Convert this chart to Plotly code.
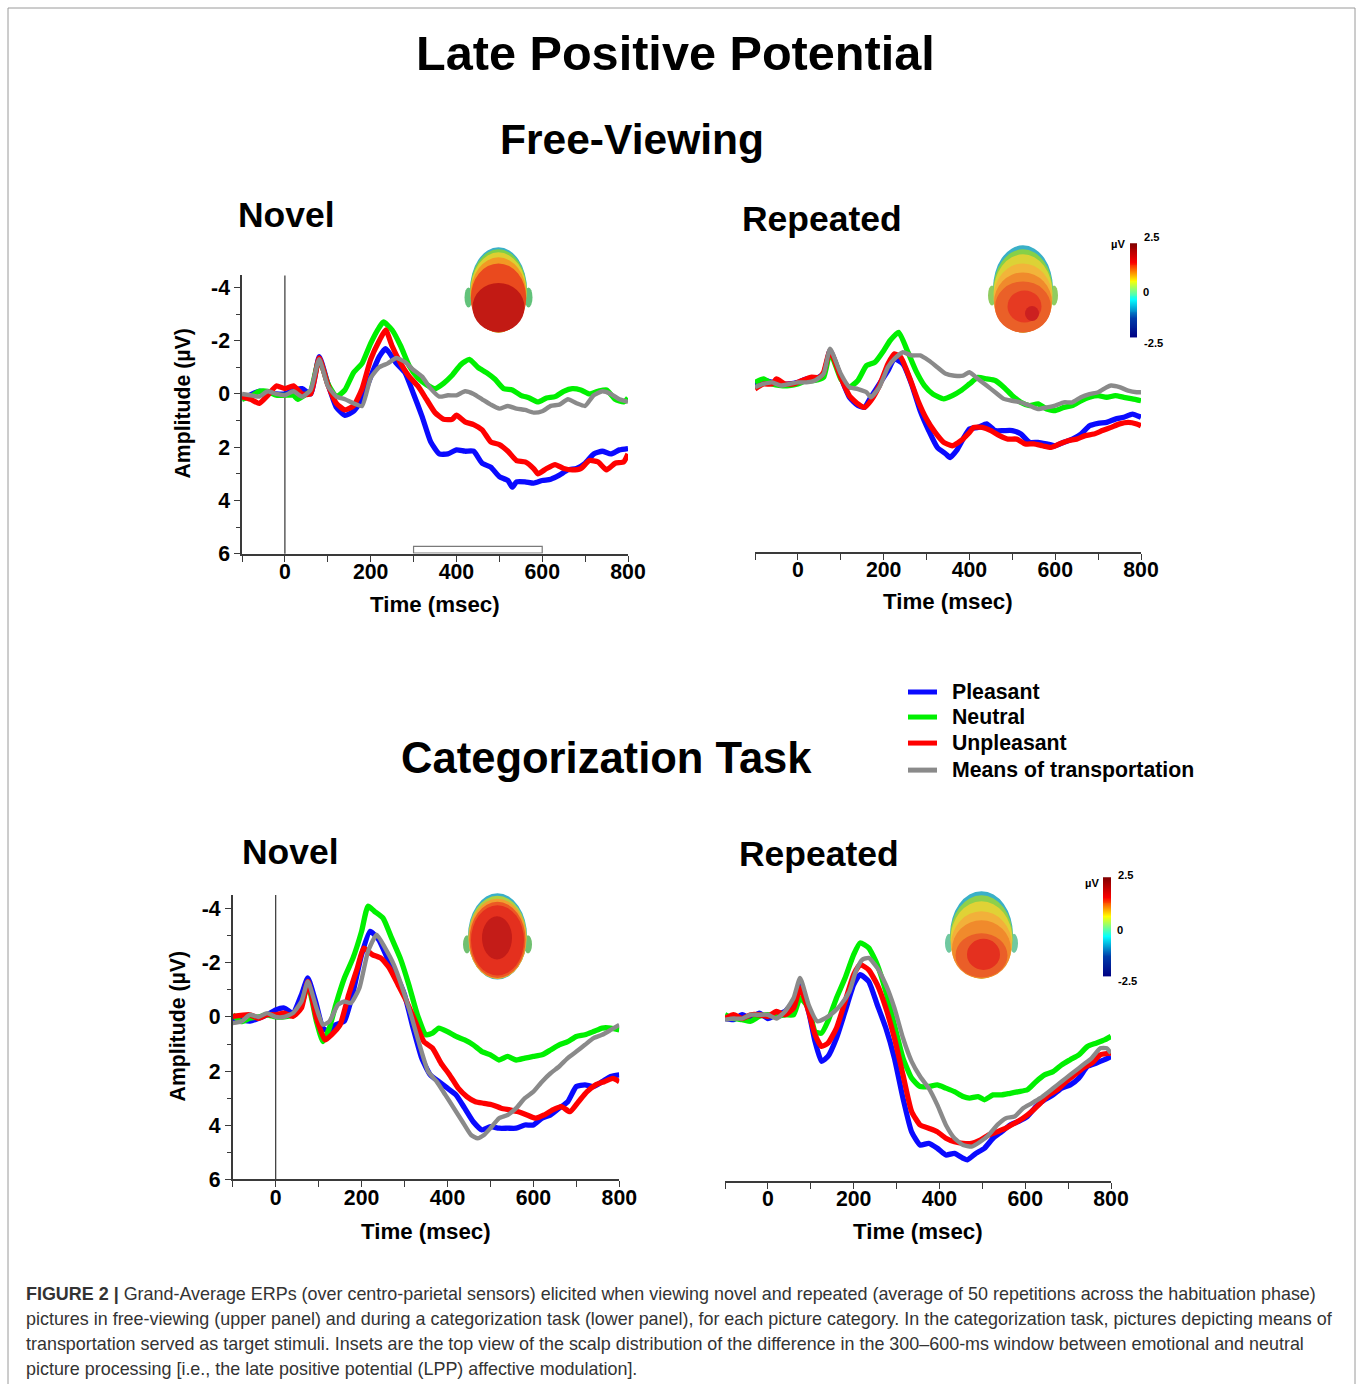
import plotly.graph_objects as go

# ---------------- DATA ----------------
series_names = ["Pleasant", "Neutral", "Unpleasant", "Means of transportation"]
series_colors = ["#0a0aff", "#00f000", "#ff0000", "#8a8a8a"]

# Free-viewing / Novel
fvn_pleasant_t = [-100,-60,-20,0,20,40,60,80,100,120,140,160,180,200,220,235,260,280,300,320,340,360,380,400,420,440,460,480,500,520,530,540,560,580,600,620,640,660,680,700,720,740,760,780,800]
fvn_pleasant_v = [0.2,-0.1,0,0,-0.15,-0.2,0,-1.4,-0.4,0.5,0.8,0.65,0.2,-0.65,-1.4,-1.7,-1.15,-0.8,0,0.85,1.8,2.25,2.25,2.1,2.15,2.15,2.6,2.75,3.1,3.25,3.5,3.3,3.3,3.35,3.25,3.2,3.05,2.85,2.8,2.6,2.25,2.15,2.25,2.1,2.05]
fvn_neutral_t = [-100,-80,-60,-40,-20,0,20,30,50,60,80,100,120,140,160,180,200,220,230,250,270,290,310,330,350,370,390,410,430,450,470,490,510,530,550,570,590,610,630,650,670,690,710,730,750,770,790,800]
fvn_neutral_v = [0.2,0.1,-0.1,-0.1,0.05,0.05,0.05,0.2,0,-0.1,-1.3,-0.4,0.1,-0.15,-0.8,-1.15,-1.9,-2.5,-2.7,-2.4,-1.8,-1.05,-0.6,-0.35,-0.2,-0.4,-0.7,-1.1,-1.3,-1.0,-0.8,-0.55,-0.2,-0.15,0.05,0.15,0.3,0.15,0.1,-0.1,-0.2,-0.15,0,-0.1,-0.15,0.2,0.3,0.15]
fvn_unpleasant_t = [-100,-80,-60,-40,-20,0,20,40,60,80,100,120,140,160,180,200,220,235,250,270,290,310,330,350,370,390,400,420,440,460,480,500,520,540,560,580,590,610,630,650,670,690,710,730,750,770,790,800]
fvn_unpleasant_v = [0.1,0.2,0.35,0.05,-0.3,-0.2,-0.3,0,0,-1.35,-0.35,0.35,0.6,0.45,-0.2,-1.3,-2.0,-2.4,-1.8,-1.15,-0.65,-0.3,0.2,0.7,0.95,0.95,0.8,1.05,1.15,1.35,1.8,1.9,2.15,2.5,2.55,2.8,3.0,2.8,2.65,2.8,2.85,2.8,2.5,2.55,2.85,2.6,2.55,2.25]
fvn_transport_t = [-100,-80,-60,-40,-20,0,20,40,60,80,100,120,140,160,180,200,220,240,260,280,300,320,340,360,380,400,420,440,460,480,500,520,540,560,580,600,620,640,660,680,700,720,740,760,780,800]
fvn_transport_v = [0,0.05,0.1,-0.1,0,0.05,-0.1,0.1,-0.15,-1.3,-0.3,0.1,0.2,0.35,0.45,-0.6,-1.0,-1.15,-1.35,-1.2,-0.9,-0.65,-0.2,0.1,0.05,0.05,-0.1,0,0.2,0.4,0.55,0.45,0.55,0.6,0.7,0.65,0.45,0.4,0.2,0.35,0.45,0.05,-0.1,0,0.2,0.3]

# Free-viewing / Repeated
fvr_pleasant_t = [-100,-80,-60,-40,-20,0,20,40,60,75,100,120,140,155,170,190,210,225,245,265,285,305,325,345,355,370,385,400,420,440,460,480,500,520,540,560,580,600,620,640,660,680,700,720,740,760,780,800]
fvr_pleasant_v = [-0.24,-0.43,-0.36,-0.3,-0.3,-0.36,-0.49,-0.49,-0.68,-1.55,-0.55,0.2,0.51,0.58,0.2,-0.3,-0.8,-1.24,-1.05,-0.3,0.7,1.45,2.08,2.33,2.46,2.2,1.77,1.39,1.33,1.2,1.45,1.45,1.45,1.58,1.89,1.89,1.95,2.02,1.89,1.77,1.58,1.27,1.18,1.14,1.02,0.95,0.83,0.95]
fvr_neutral_t = [-100,-80,-60,-40,-20,0,20,40,60,75,100,120,140,160,180,200,215,235,255,275,295,315,340,360,380,400,420,440,460,480,500,520,540,560,580,600,620,640,660,680,700,720,740,760,780,800]
fvr_neutral_v = [-0.36,-0.49,-0.3,-0.24,-0.24,-0.3,-0.43,-0.43,-0.55,-1.49,-0.49,-0.18,-0.43,-0.99,-1.12,-1.55,-1.93,-2.24,-1.55,-0.8,-0.24,0.08,0.26,0.14,-0.05,-0.3,-0.55,-0.49,-0.43,-0.18,0.14,0.39,0.51,0.45,0.64,0.7,0.58,0.51,0.33,0.2,0.14,0.2,0.14,0.2,0.26,0.33]
fvr_unpleasant_t = [-100,-80,-60,-50,-30,-10,10,30,50,60,75,100,120,140,155,170,190,210,225,240,260,280,300,320,340,360,380,400,410,430,450,470,490,510,530,550,570,590,610,630,650,670,690,710,730,750,770,790,800]
fvr_unpleasant_v = [-0.11,-0.3,-0.3,-0.49,-0.3,-0.3,-0.43,-0.55,-0.55,-0.74,-1.55,-0.55,0.14,0.45,0.58,0.33,-0.24,-1.05,-1.43,-1.3,-0.55,0.33,1.02,1.52,1.89,2.02,1.83,1.52,1.33,1.33,1.45,1.64,1.77,1.77,1.95,1.95,2.02,2.08,1.95,1.83,1.77,1.64,1.58,1.45,1.33,1.2,1.14,1.2,1.27]
fvr_transport_t = [-100,-80,-60,-40,-20,0,20,40,60,75,100,120,140,160,170,190,210,225,245,265,285,305,325,345,365,385,400,420,440,460,480,500,520,540,560,580,600,620,640,660,680,700,720,730,750,770,790,800]
fvr_transport_v = [-0.18,-0.3,-0.36,-0.24,-0.3,-0.36,-0.36,-0.43,-0.68,-1.62,-0.68,-0.18,-0.11,0.01,0.2,-0.18,-0.93,-1.24,-1.49,-1.37,-1.37,-1.18,-0.93,-0.68,-0.61,-0.61,-0.74,-0.49,-0.24,0.01,0.26,0.33,0.39,0.51,0.64,0.58,0.51,0.39,0.39,0.2,0.08,0.01,-0.18,-0.24,-0.18,-0.05,0.01,0.01]

# Categorization / Novel
ctn_pleasant_t = [-100,-60,-20,0,20,40,60,75,95,110,125,140,160,180,200,220,240,260,280,300,320,340,360,380,400,420,440,460,480,500,520,540,560,580,600,620,640,660,680,700,720,740,760,780,800]
ctn_pleasant_v = [0.05,0.15,-0.08,-0.26,-0.33,-0.14,-0.82,-1.44,-0.45,0.41,0.54,0.29,0.15,-0.9,-2.3,-3.16,-2.85,-2.17,-1.56,-0.82,0.41,1.52,2.14,2.39,2.63,2.88,3.37,3.87,4.17,4.05,4.11,4.11,4.11,3.99,3.99,3.74,3.62,3.37,3.13,2.57,2.51,2.57,2.39,2.2,2.14]
ctn_neutral_t = [-100,-80,-60,-40,-20,0,20,40,60,75,95,110,125,140,160,180,200,215,230,250,270,290,310,330,350,365,380,400,420,440,460,480,500,520,540,560,580,600,620,640,660,680,700,720,740,760,780,800]
ctn_neutral_v = [-0.08,0.17,0.05,0,-0.08,0,0,-0.08,-0.45,-1.19,0.17,0.91,0.41,-0.45,-1.44,-2.17,-3.16,-4.09,-3.9,-3.65,-2.91,-2.17,-1.19,-0.08,0.66,0.6,0.41,0.54,0.72,0.85,1.03,1.28,1.4,1.59,1.46,1.59,1.52,1.46,1.4,1.22,1.03,0.91,0.72,0.66,0.54,0.41,0.41,0.48]
ctn_unpleasant_t = [-100,-60,-40,-20,0,20,40,60,75,95,115,130,150,170,190,205,225,245,265,285,305,325,345,365,385,405,425,445,465,485,505,525,545,565,585,605,625,645,665,685,705,725,745,765,785,800]
ctn_unpleasant_v = [-0.02,-0.08,0.05,-0.08,-0.08,-0.14,-0.02,-0.33,-1.31,0.05,0.85,0.66,0.29,-0.82,-1.8,-2.54,-2.3,-2.17,-1.8,-1.19,-0.57,0.17,0.91,1.15,1.71,2.14,2.63,2.94,3.13,3.19,3.25,3.37,3.43,3.5,3.62,3.74,3.62,3.43,3.31,3.5,3.13,2.76,2.51,2.39,2.27,2.39]
ctn_transport_t = [-100,-80,-60,-40,-20,0,20,40,60,75,95,110,125,145,160,175,195,215,235,255,275,295,315,335,355,375,395,415,435,455,470,485,500,520,540,560,580,600,620,640,660,680,700,720,740,760,780,800]
ctn_transport_v = [0.23,0.17,-0.08,0,-0.14,0,0,-0.14,-0.57,-1.31,-0.33,0.29,0.17,-0.45,-0.57,-0.51,-1.07,-2.42,-3.04,-2.54,-1.93,-1.07,-0.08,1.03,2.02,2.39,2.88,3.37,3.87,4.36,4.48,4.36,4.11,3.74,3.62,3.37,3.0,2.76,2.39,2.08,1.83,1.52,1.28,1.03,0.78,0.66,0.48,0.29]

# Categorization / Repeated
ctr_pleasant_t = [-100,-80,-60,-40,-20,0,20,40,60,75,95,110,125,140,160,180,200,215,235,255,275,295,315,335,355,375,395,415,435,455,465,485,505,525,545,565,585,605,625,645,665,685,705,725,745,765,785,800]
ctr_pleasant_v = [0,0.04,-0.14,0,-0.2,0,-0.14,-0.26,-0.63,-1.25,-0.26,0.85,1.58,1.4,0.72,-0.26,-1.25,-1.62,-1.37,-0.51,0.35,1.46,2.94,4.18,4.67,4.61,4.79,5.04,4.98,5.16,5.22,4.98,4.79,4.42,4.18,3.93,3.8,3.62,3.25,3.0,2.82,2.57,2.45,2.2,1.77,1.65,1.52,1.4]
ctr_neutral_t = [-100,-80,-60,-40,-20,0,20,40,60,75,95,110,125,140,160,180,200,215,235,255,275,295,315,335,355,375,395,415,435,455,470,490,505,525,545,565,585,605,625,645,665,685,705,725,745,765,785,800]
ctr_neutral_v = [-0.14,0,0.04,0.1,-0.08,-0.14,-0.08,-0.14,-0.14,-0.76,-0.39,0.48,0.54,0.1,-0.76,-1.5,-2.36,-2.79,-2.61,-1.99,-1.0,0.23,1.46,2.2,2.51,2.51,2.45,2.57,2.7,2.88,2.94,2.88,3.0,2.82,2.82,2.76,2.7,2.63,2.33,2.08,1.96,1.71,1.52,1.34,1.03,0.91,0.79,0.66]
ctr_unpleasant_t = [-100,-80,-60,-40,-20,0,20,40,60,75,95,110,125,140,160,180,200,215,235,255,275,295,315,335,355,375,395,415,435,455,475,495,515,535,555,575,595,615,635,655,675,695,715,735,755,775,800]
ctr_unpleasant_v = [0,-0.14,0,-0.14,-0.14,-0.08,-0.26,-0.14,-0.39,-1.13,-0.26,0.6,1.03,0.91,0.35,-0.63,-1.62,-1.99,-1.8,-1.25,-0.39,0.72,2.08,3.43,3.93,4.05,4.18,4.42,4.55,4.61,4.61,4.49,4.3,4.18,4.05,3.87,3.68,3.43,3.13,2.82,2.63,2.33,2.08,1.83,1.65,1.34,1.28]
ctr_transport_t = [-100,-80,-60,-40,-20,0,20,40,60,75,95,115,135,155,170,190,205,220,235,255,275,295,315,335,355,375,395,415,435,455,475,495,515,535,555,575,595,615,635,655,675,695,715,735,755,775,790,800]
ctr_transport_v = [0.04,0,0,-0.14,-0.14,-0.14,0,-0.26,-0.76,-1.5,-0.51,0.1,-0.02,-0.26,-0.51,-1.0,-1.74,-2.17,-2.24,-1.87,-1.25,-0.39,0.72,1.58,2.14,2.57,3.19,3.93,4.42,4.67,4.73,4.55,4.3,3.93,3.68,3.62,3.31,3.13,2.94,2.7,2.45,2.2,1.96,1.71,1.46,1.1,1.1,1.28]

x_tick_vals = [-100, 0, 100, 200, 300, 400, 500, 600, 700, 800]
x_tick_text = ["", "0", "", "200", "", "400", "", "600", "", "800"]
y_tick_vals = [-4, -2, 0, 2, 4, 6]
y_tick_text = ["-4", "-2", "0", "2", "4", "6"]
y_minor_vals = [-3, -1, 1, 3, 5]
lpp_window = [300, 600]
colorbar_levels = [-2.5 + 0.05 * i for i in range(101)]
colorbar_tick_text = ["2.5", "0", "-2.5"]

caption_lines = [
    "<b>FIGURE 2 |</b> Grand-Average ERPs (over centro-parietal sensors) elicited when viewing novel and repeated (average of 50 repetitions across the habituation phase)",
    "pictures in free-viewing (upper panel) and during a categorization task (lower panel), for each picture category. In the categorization task, pictures depicting means of",
    "transportation served as target stimuli. Insets are the top view of the scalp distribution of the difference in the 300\u2013600-ms window between emotional and neutral",
    "picture processing [i.e., the late positive potential (LPP) affective modulation].",
]

# ---------------- LAYOUT HELPERS ----------------
# Positions are given in reference pixels (1360 x 1384) and placed as paper fractions.
W, H = 1360, 1384
FIG_W, FIG_H = 1378, 1398
FS = FIG_W / W  # keep text size proportional to the figure size
FONT = "Liberation Sans, Arial, sans-serif"


def fx(px):
    return px / W


def fy(py):
    return 1 - py / H


panels = [
    ("", [(fvn_pleasant_t, fvn_pleasant_v), (fvn_neutral_t, fvn_neutral_v), (fvn_unpleasant_t, fvn_unpleasant_v), (fvn_transport_t, fvn_transport_v)],
     (242, 628), 553, 275, [6, -4.45], True),
    ("2", [(fvr_pleasant_t, fvr_pleasant_v), (fvr_neutral_t, fvr_neutral_v), (fvr_unpleasant_t, fvr_unpleasant_v), (fvr_transport_t, fvr_transport_v)],
     (755, 1141), 551, 273, [6, -4.45], False),
    ("3", [(ctn_pleasant_t, ctn_pleasant_v), (ctn_neutral_t, ctn_neutral_v), (ctn_unpleasant_t, ctn_unpleasant_v), (ctn_transport_t, ctn_transport_v)],
     (232.7, 619.3), 1177.7, 893.8, [6, -4.5], True),
    ("4", [(ctr_pleasant_t, ctr_pleasant_v), (ctr_neutral_t, ctr_neutral_v), (ctr_unpleasant_t, ctr_unpleasant_v), (ctr_transport_t, ctr_transport_v)],
     (725, 1111), 1179.3, 895.4, [6, -4.5], False),
]

fig = go.Figure()
layout = dict(
    width=FIG_W, height=FIG_H, autosize=False, margin=dict(l=0, r=0, t=0, b=0),
    paper_bgcolor="white", plot_bgcolor="rgba(0,0,0,0)",
    font=dict(family=FONT, color="black"),
    showlegend=False,
)

for pi, (sfx, data, xd, yb, yt, yr, showy) in enumerate(panels):
    xa = "x" + sfx
    ya = "y" + sfx
    for si, (t, v) in enumerate(data):
        fig.add_trace(go.Scatter(
            x=t, y=v, mode="lines", xaxis=xa, yaxis=ya,
            name=series_names[si], legendgroup=series_names[si],
            line=dict(color=series_colors[si], width=5.3 if si < 3 else 4.4, shape="spline", smoothing=0.5),
            hoverinfo="skip",
        ))
    layout["xaxis" + sfx] = dict(
        domain=[fx(xd[0]), fx(xd[1])], range=[-100, 800], anchor=ya,
        showline=True, linecolor="#3a3a3a", linewidth=1.5, mirror=False,
        ticks="outside", ticklen=6, tickwidth=1.3, tickcolor="#3a3a3a",
        tickvals=x_tick_vals, ticktext=x_tick_text, ticklabelstandoff=-8,
        tickfont=dict(size=21 * FS, family=FONT, weight="bold", color="black"),
        showgrid=False, zeroline=False, fixedrange=True,
    )
    ydict = dict(
        domain=[fy(yb), fy(yt)], range=yr, anchor=xa,
        showgrid=False, zeroline=False, fixedrange=True,
    )
    if showy:
        ydict.update(
            showline=True, linecolor="#3a3a3a", linewidth=1.5,
            ticks="outside", ticklen=6, tickwidth=1.3, tickcolor="#3a3a3a",
            tickvals=y_tick_vals, ticktext=y_tick_text,
            minor=dict(tickvals=y_minor_vals, ticks="outside", ticklen=4, tickcolor="#3a3a3a", tickwidth=1.2),
            tickfont=dict(size=21 * FS, family=FONT, weight="bold", color="black"),
        )
    else:
        ydict.update(visible=False)
    layout["yaxis" + sfx] = ydict

# colour-bar strips (topography scale)
cbars = [("5", (1130, 1137), 337, 243), ("6", (1103, 1111), 975, 876)]
for sfx, xd, yb, yt in cbars:
    fig.add_trace(go.Heatmap(
        x=[0], y=colorbar_levels, z=[[v] for v in colorbar_levels],
        colorscale="Jet", zmin=-2.5, zmax=2.5, showscale=False,
        xaxis="x" + sfx, yaxis="y" + sfx, hoverinfo="skip",
    ))
    layout["xaxis" + sfx] = dict(domain=[fx(xd[0]), fx(xd[1])], visible=False, anchor="y" + sfx,
                                 range=[-0.5, 0.5], fixedrange=True)
    layout["yaxis" + sfx] = dict(domain=[fy(yb), fy(yt)], visible=False, anchor="x" + sfx,
                                 range=[-2.5, 2.5], fixedrange=True)

fig.update_layout(**layout)

# ---------------- SHAPES ----------------
shapes = []
shapes.append(dict(type="rect", xref="paper", yref="paper", x0=fx(8), x1=fx(1355), y0=0, y1=fy(8),
                   line=dict(color="#9a9a9a", width=1), fillcolor="rgba(0,0,0,0)", layer="below"))
for ax in ["", "3"]:
    shapes.append(dict(type="line", xref="x" + ax, yref="y" + ax + " domain", x0=0, x1=0, y0=0, y1=1,
                       line=dict(color="#444444", width=1.3), layer="below"))
shapes.append(dict(type="rect", xref="x", yref="y", x0=lpp_window[0], x1=lpp_window[1], y0=5.72, y1=5.97,
                   line=dict(color="#7a7a7a", width=1.2), fillcolor="white", layer="below"))

# manual legend swatches (one per series)
legend_rows = [691, 716, 742, 769]
for col, ry in zip(series_colors, legend_rows):
    shapes.append(dict(type="line", xref="paper", yref="paper", x0=fx(908), x1=fx(937), y0=fy(ry), y1=fy(ry),
                       line=dict(color=col, width=5)))


def ell(cx, cy, rx, ry, color):
    return dict(type="circle", xref="paper", yref="paper",
                x0=fx(cx - rx), x1=fx(cx + rx), y0=fy(cy + ry), y1=fy(cy - ry),
                fillcolor=color, line=dict(width=0), layer="above")


heads = [
    ([(468.5, 297, 4, 10, "#62c27a"), (528.5, 297, 4, 10, "#62c27a")], [
        (498.5, 289.5, 28.5, 42.5, "#3ab0c8"), (498.5, 290.5, 28.3, 41.5, "#7ecf48"),
        (498.5, 292, 28.1, 40, "#dcd032"), (498.5, 294.5, 27.9, 37.5, "#f29a24"),
        (498.5, 297.5, 27.7, 34.5, "#ea4a1e"), (498.5, 307, 26, 24.5, "#c21a14")]),
    ([(992, 295, 4, 10, "#90cc60"), (1054, 295, 4, 10, "#90cc60")], [
        (1023, 288.5, 30, 43.5, "#3ab0c8"), (1023, 290.5, 29.8, 41.5, "#86d048"),
        (1023, 293, 29.6, 39, "#dcd236"), (1023, 297.5, 29.4, 34.5, "#f2b43a"),
        (1023, 302, 29, 30, "#f08a2c"), (1023, 306.5, 28, 25.5, "#ea6028"),
        (1024.5, 306, 17, 16, "#e63a22"), (1032, 313, 7, 7.5, "#cc2020")]),
    ([(467, 943, 4, 9, "#70c070"), (528, 943, 4, 9, "#70c070")], [
        (497.5, 935, 29.5, 43, "#3ab0c8"), (497.5, 936, 29.3, 41.5, "#b0d040"),
        (497.5, 937.5, 29, 40, "#f0a030"), (497.5, 938.5, 28, 38, "#ec5a24"),
        (497.5, 939, 26.5, 35, "#e4301e"), (497, 936.5, 15, 21.5, "#c41c18")]),
    ([(949, 942, 4, 9.5, "#70c8a0"), (1014, 942, 4, 9.5, "#70c8a0")], [
        (981.5, 933.5, 31.5, 43.5, "#3ab0c8"), (981.5, 935.5, 31.3, 41.5, "#8ed04a"),
        (981.5, 938.5, 31, 38.5, "#e0d236"), (981.5, 943.5, 30.5, 33.5, "#f2b03a"),
        (981.5, 948, 29.5, 29, "#f08a2c"), (981.5, 954, 26, 22, "#ea5e28"),
        (983.5, 953, 16.5, 15.5, "#e4301f")]),
]
for ears, layers in heads:
    for e in ears + layers:
        shapes.append(ell(*e))

fig.update_layout(shapes=shapes)

# ---------------- TEXT ----------------
ann = []


def text(x, y, s, size, bold=True, angle=0, xanchor="center", color="black"):
    ann.append(dict(x=fx(x), y=fy(y), xref="paper", yref="paper", text=s, showarrow=False,
                    xanchor=xanchor, yanchor="middle", textangle=angle,
                    font=dict(size=size * FS, family=FONT, color=color, weight="bold" if bold else "normal")))


text(675, 53, "Late Positive Potential", 48)
text(632, 139, "Free-Viewing", 42)
text(286, 215, "Novel", 35)
text(822, 219, "Repeated", 35)
text(606, 757, "Categorization Task", 43)
text(290, 851, "Novel", 35)
text(819, 853, "Repeated", 35)

text(435, 604, "Time (msec)", 22)
text(948, 601, "Time (msec)", 22)
text(426, 1230, "Time (msec)", 22)
text(918, 1230, "Time (msec)", 22)
text(183, 403, "Amplitude (\u00b5V)", 21, angle=-90)
text(178, 1025, "Amplitude (\u00b5V)", 21, angle=-90)

for name, ry in zip(series_names, legend_rows):
    text(950, ry, name, 21, xanchor="left")

for (ux, uy), lab_pos in [((1118, 244), [(1151, 237), (1146, 292), (1153, 343)]),
                          ((1092, 882), [(1125, 874), (1120, 929), (1127, 980)])]:
    text(ux, uy, "\u00b5V", 11)
    for (lx, ly), s in zip(lab_pos, colorbar_tick_text):
        text(lx, ly, s, 11)

for i, line in enumerate(caption_lines):
    text(24, 1292 + 25 * i, line, 17.7, bold=False, xanchor="left", color="#333333")

fig.update_layout(annotations=ann)

POST = (
    "var de=document.documentElement;de.style.margin='0';de.style.padding='0';"
    "document.body.style.margin='0';document.body.style.padding='0';"
    "var d=document.getElementById('{plot_id}');d.style.position='absolute';d.style.left='0px';d.style.top='0px';"
)
fig.write_html("out.html", post_script=POST, config={"displayModeBar": False})
